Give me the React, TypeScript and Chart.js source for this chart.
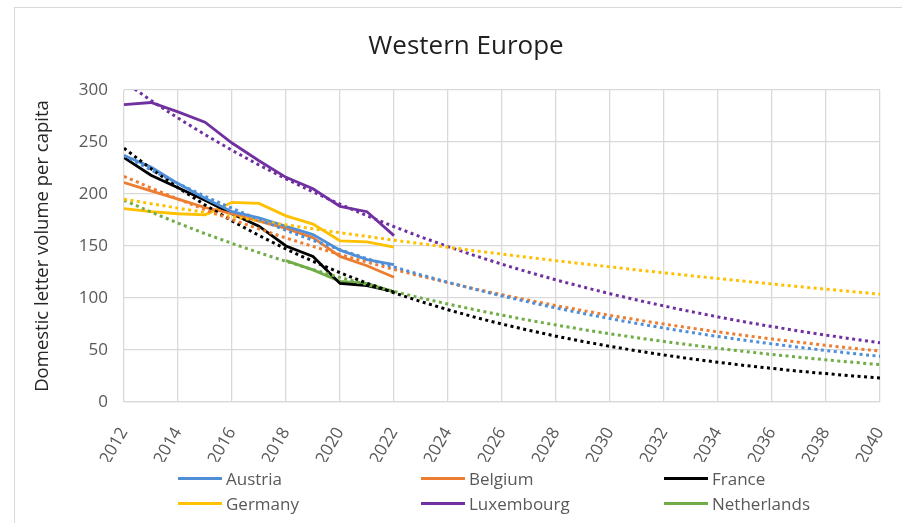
import React, { useEffect, useRef } from "react";
import { Chart, registerables } from "chart.js";

Chart.register(...registerables);

const TITLE = "Western Europe";
const Y_TITLE = "Domestic letter volume per capita";

const countries = ["Austria", "Belgium", "France", "Germany", "Luxembourg", "Netherlands"];
const colors = ["#4F8FD8", "#ED7D31", "#000000", "#FFC000", "#7030A0", "#70AD47"];

const actualYears = [2012, 2013, 2014, 2015, 2016, 2017, 2018, 2019, 2020, 2021, 2022];
const austria = [237, 226, 210, 196, 183, 177, 169, 161, 146, 137, 132];
const belgium = [211, 203, 195, 187, 181, 174, 167, 158, 140, 131, 120];
const france = [235, 218, 206, 194, 181, 169, 150, 140, 114, 112, 106];
const germany = [186, 183, 181, 180, 192, 191, 179, 171, 155, 154, 149];
const luxembourg = [286, 288, 279, 269, 249, 232, 216, 205, 188, 183, 160];
const netherlands = [null, null, null, null, null, null, 136, 127, 116, 114, 106];

const trendYears = [
  2012, 2013, 2014, 2015, 2016, 2017, 2018, 2019, 2020, 2021, 2022, 2023, 2024, 2025, 2026,
  2027, 2028, 2029, 2030, 2031, 2032, 2033, 2034, 2035, 2036, 2037, 2038, 2039, 2040,
];
const austriaTrend = [
  237, 223.2, 210.1, 197.8, 186.3, 175.4, 165.1, 155.5, 146.4, 137.8, 129.8, 122.2, 115.1, 108.4,
  102.0, 96.1, 90.4, 85.2, 80.2, 75.5, 71.1, 66.9, 63.0, 59.3, 55.9, 52.6, 49.5, 46.6, 43.9,
];
const belgiumTrend = [
  217, 205.8, 195.1, 185.0, 175.4, 166.4, 157.7, 149.6, 141.8, 134.5, 127.5, 120.9, 114.7, 108.7,
  103.1, 97.8, 92.7, 87.9, 83.3, 79.0, 74.9, 71.1, 67.4, 63.9, 60.6, 57.4, 54.5, 51.6, 49.0,
];
const franceTrend = [
  244, 224.3, 206.1, 189.5, 174.1, 160.1, 147.1, 135.2, 124.3, 114.2, 105.0, 96.5, 88.7, 81.5,
  74.9, 68.9, 63.3, 58.2, 53.5, 49.2, 45.2, 41.5, 38.2, 35.1, 32.3, 29.6, 27.3, 25.0, 23.0,
];
const germanyTrend = [
  195, 190.7, 186.4, 182.2, 178.2, 174.2, 170.3, 166.5, 162.8, 159.2, 155.6, 152.2, 148.8, 145.4,
  142.2, 139.0, 135.9, 132.9, 129.9, 127.0, 124.2, 121.4, 118.7, 116.1, 113.5, 110.9, 108.5, 106.1,
  103.7,
];
const luxembourgTrend = [
  308, 290.0, 273.0, 257.1, 242.0, 227.9, 214.6, 202.0, 190.2, 179.1, 168.6, 158.7, 149.4, 140.7,
  132.5, 124.7, 117.4, 110.6, 104.1, 98.0, 92.3, 86.9, 81.8, 77.0, 72.5, 68.3, 64.3, 60.5, 57.0,
];
const netherlandsTrend = [
  194, 182.7, 172.0, 161.9, 152.5, 143.6, 135.2, 127.3, 119.8, 112.8, 106.3, 100.0, 94.2, 88.7,
  83.5, 78.6, 74.0, 69.7, 65.6, 61.8, 58.2, 54.8, 51.6, 48.6, 45.7, 43.1, 40.5, 38.2, 35.9,
];

const actualSeries = [austria, belgium, france, germany, luxembourg, netherlands];
const trendSeries = [austriaTrend, belgiumTrend, franceTrend, germanyTrend, luxembourgTrend, netherlandsTrend];

const X_MIN = 2012;
const X_MAX = 2040;
const X_STEP = 2;
const Y_MIN = 0;
const Y_MAX = 300;
const Y_STEP = 50;

const FONT = '"Open Sans", "Noto Sans", sans-serif';

const titlePlugin = {
  id: "customTitle",
  afterDraw(chart: any) {
    const ctx = chart.ctx;
    ctx.save();
    ctx.font = `26px ${FONT}`;
    ctx.fillStyle = "#1f1f1f";
    ctx.textAlign = "center";
    ctx.textBaseline = "middle";
    ctx.fillText(TITLE, 466, 47);
    ctx.restore();
  },
};

export default function App() {
  const canvasRef = useRef<HTMLCanvasElement | null>(null);

  useEffect(() => {
    if (!canvasRef.current) return;
    const datasets: any[] = [];
    countries.forEach((name, i) => {
      datasets.push({
        label: name,
        data: actualYears.map((x, j) => ({ x, y: actualSeries[i][j] })),
        borderColor: colors[i],
        backgroundColor: colors[i],
        borderWidth: 2.8,
        pointRadius: 0,
        tension: 0,
        fill: false,
        order: 1,
      });
    });
    countries.forEach((name, i) => {
      datasets.push({
        label: name + " trend",
        data: trendYears.map((x, j) => ({ x, y: trendSeries[i][j] })),
        borderColor: colors[i],
        backgroundColor: colors[i],
        borderWidth: 3,
        borderDash: [3, 3.5],
        borderCapStyle: "butt",
        pointRadius: 0,
        tension: 0,
        fill: false,
        order: 0,
      });
    });

    const chart = new Chart(canvasRef.current, {
      type: "line",
      data: { datasets },
      plugins: [titlePlugin],
      options: {
        animation: false,
        responsive: true,
        maintainAspectRatio: false,
        layout: { padding: { left: 0, right: 22, top: 90, bottom: 61 } },
        plugins: {
          legend: { display: false },
          title: { display: false },
          tooltip: { enabled: false },
        },
        scales: {
          x: {
            type: "linear",
            min: X_MIN,
            max: X_MAX,
            afterFit: (s: any) => {
              s.height = 60;
              s.paddingLeft = 0;
              s.paddingRight = 0;
            },
            ticks: {
              stepSize: X_STEP,
              autoSkip: false,
              minRotation: 60,
              maxRotation: 60,
              padding: 22,
              color: "#595959",
              font: { family: FONT, size: 17 },
              callback: (v: any) => String(v),
            },
            grid: { color: "#d9d9d9", lineWidth: 1.3, drawTicks: false },
            border: { color: "#d9d9d9", width: 1.3 },
          },
          y: {
            min: Y_MIN,
            max: Y_MAX,
            afterFit: (s: any) => {
              s.width = 124;
              s.paddingTop = 0;
              s.paddingBottom = 0;
            },
            ticks: {
              stepSize: Y_STEP,
              padding: 16,
              color: "#595959",
              font: { family: FONT, size: 17 },
            },
            grid: { color: "#d9d9d9", lineWidth: 1.3, drawTicks: false },
            border: { display: false },
            title: {
              display: true,
              text: Y_TITLE,
              color: "#262626",
              font: { family: FONT, size: 18.5 },
              padding: { top: 32, bottom: 0 },
            },
          },
        },
      },
    });
    return () => chart.destroy();
  }, []);

  const legendCols = [178, 421, 664];
  const legendRows = [478, 503];

  return (
    <div
      style={{
        position: "fixed",
        left: 0,
        top: 0,
        width: 902,
        height: 523,
        overflow: "hidden",
        background: "#ffffff",
      }}
    >
      <div
        style={{
          position: "absolute",
          left: 14,
          top: 7,
          width: 902,
          height: 523,
          border: "1px solid #d9d9d9",
          boxSizing: "border-box",
        }}
      />
      <div style={{ position: "absolute", left: 0, top: 0, width: 902, height: 523 }}>
        <canvas ref={canvasRef} />
      </div>
      {countries.map((name, i) => (
        <div
          key={name}
          style={{
            position: "absolute",
            left: legendCols[i % 3],
            top: legendRows[Math.floor(i / 3)] - 12,
            height: 24,
            display: "flex",
            alignItems: "center",
            fontFamily: FONT,
            fontSize: 17,
            color: "#595959",
            whiteSpace: "nowrap",
          }}
        >
          <span
            style={{
              display: "inline-block",
              width: 44,
              height: 3,
              background: colors[i],
              marginRight: 4,
            }}
          />
          <span>{name}</span>
        </div>
      ))}
    </div>
  );
}
